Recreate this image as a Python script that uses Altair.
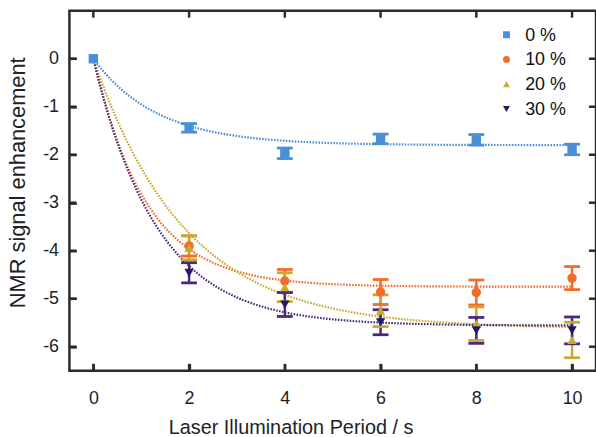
import altair as alt
import pandas as pd

# ---- data ----
times = [0, 2, 4, 6, 8, 10]
series = ["0 %", "10 %", "20 %", "30 %"]
val_0 = [0.0, -1.44, -1.97, -1.67, -1.69, -1.89]
err_0 = [None, 0.09, 0.11, 0.10, 0.11, 0.11]
val_10 = [None, -3.90, -4.63, -4.86, -4.87, -4.57]
err_10 = [None, 0.21, 0.24, 0.26, 0.26, 0.24]
val_20 = [None, -3.94, -4.76, -5.25, -5.52, -5.86]
err_20 = [None, 0.25, 0.30, 0.33, 0.35, 0.37]
val_30 = [None, -4.46, -5.12, -5.49, -5.66, -5.66]
err_30 = [None, 0.21, 0.25, 0.26, 0.27, 0.28]
# fitted model y = A * (1 - exp(-k t))
fit_amp = [-1.80, -4.75, -5.62, -5.56]
fit_rate = [0.75, 0.90, 0.52, 0.75]

x_ticks = [0, 2, 4, 6, 8, 10]
y_ticks = [0, -1, -2, -3, -4, -5, -6]
x_domain = [-0.5, 10.5]
y_domain = [-6.5, 1.0]

line_colors = ["#4A90D6", "#F26B2A", "#C9A928", "#4B2A7B"]
marker_colors = ["#4A90D6", "#F26B2A", "#C9A928", "#1F1A6E"]
shapes = ["square", "circle", "triangle-up", "triangle-down"]

rows = []
for s, vals, errs in zip(series, [val_0, val_10, val_20, val_30],
                         [err_0, err_10, err_20, err_30]):
    for t, v, e in zip(times, vals, errs):
        if v is None:
            continue
        rows.append({"t": t, "v": v, "series": s, "grp": s,
                     "lo": (v - e) if e is not None else None,
                     "hi": (v + e) if e is not None else None})
df = pd.DataFrame(rows)
df_err = df.dropna(subset=["lo"])

W, H = 531, 363
TICK = 7
FONT = "Liberation Sans"
AX = "#2b2b2b"
xs = alt.Scale(domain=x_domain, nice=False, zero=False)
ys = alt.Scale(domain=y_domain, nice=False, zero=False)

common = dict(offset=-TICK, tickSize=TICK, tickWidth=2.5, tickColor=AX, domain=False, grid=False,
              labelFont=FONT, titleFont=FONT, labelColor="#222", titleColor="#222",
              titleFontWeight="normal", labelFontSize=18)
xaxis = alt.Axis(values=x_ticks, orient="bottom", labelPadding=19,
                 title="Laser Illumination Period / s", titlePadding=10, titleFontSize=20,
                 titleX=223, labelExpr="'' + datum.value", **common)
yaxis = alt.Axis(values=y_ticks, orient="left", labelPadding=11,
                 title="NMR signal enhancement", titlePadding=13, titleFontSize=22,
                 titleY=173, labelExpr="'' + datum.value", **common)

stroke_enc = alt.Stroke("grp:N", scale=alt.Scale(domain=series, range=line_colors), legend=None)
color_enc = alt.Color("series:N", scale=alt.Scale(domain=series, range=marker_colors), legend=None)
shape_enc = alt.Shape("series:N", scale=alt.Scale(domain=series, range=shapes), legend=None)

calc = {s: f"{a} * (1 - exp(-{k} * datum.t))" for s, a, k in zip(series, fit_amp, fit_rate)}
curves = alt.Chart(alt.sequence(0, 10.001, 0.05, as_="t")).transform_calculate(
    **calc
).transform_fold(series, as_=["grp", "y"]).mark_line(
    strokeDash=[1.6, 1.4], strokeWidth=2.2
).encode(
    x=alt.X("t:Q", scale=xs, axis=xaxis),
    y=alt.Y("y:Q", scale=ys, axis=yaxis),
    stroke=stroke_enc,
)

bars = alt.Chart(df_err).mark_rule(strokeWidth=2.5).encode(
    x=alt.X("t:Q", scale=xs), y=alt.Y("lo:Q", scale=ys), y2="hi:Q", stroke=stroke_enc
)
cap_lo = alt.Chart(df_err).mark_rule(strokeWidth=2.8, xOffset=-8, x2Offset=8).encode(
    x=alt.X("t:Q", scale=xs), x2="t:Q", y=alt.Y("lo:Q", scale=ys), stroke=stroke_enc
)
cap_hi = alt.Chart(df_err).mark_rule(strokeWidth=2.8, xOffset=-8, x2Offset=8).encode(
    x=alt.X("t:Q", scale=xs), x2="t:Q", y=alt.Y("hi:Q", scale=ys), stroke=stroke_enc
)

points = alt.Chart(df).mark_point(filled=True, size=90, opacity=1).encode(
    x=alt.X("t:Q", scale=xs), y=alt.Y("v:Q", scale=ys), color=color_enc, shape=shape_enc,
)

# inward frame ticks on all four edges, placed on the domain edges through the scales
xt = pd.DataFrame({"t": x_ticks * 2, "edge": [y_domain[1]] * len(x_ticks) + [y_domain[0]] * len(x_ticks),
                   "side": ["top"] * len(x_ticks) + ["bottom"] * len(x_ticks)})
yt = pd.DataFrame({"v": y_ticks * 2, "edge": [x_domain[0]] * len(y_ticks) + [x_domain[1]] * len(y_ticks),
                   "side": ["left"] * len(y_ticks) + ["right"] * len(y_ticks)})
ticks_top = alt.Chart(xt).transform_filter("datum.side == 'top'").mark_tick(
    orient="vertical", size=TICK, thickness=2.5, color=AX, yOffset=TICK / 2, opacity=1
).encode(x=alt.X("t:Q", scale=xs), y=alt.Y("edge:Q", scale=ys))
ticks_bottom = alt.Chart(xt).transform_filter("datum.side == 'bottom'").mark_tick(
    orient="vertical", size=TICK, thickness=2.5, color=AX, yOffset=-TICK / 2, opacity=1
).encode(x=alt.X("t:Q", scale=xs), y=alt.Y("edge:Q", scale=ys))
ticks_left = alt.Chart(yt).transform_filter("datum.side == 'left'").mark_tick(
    orient="horizontal", size=TICK, thickness=2.5, color=AX, xOffset=TICK / 2, opacity=1
).encode(y=alt.Y("v:Q", scale=ys), x=alt.X("edge:Q", scale=xs))
ticks_right = alt.Chart(yt).transform_filter("datum.side == 'right'").mark_tick(
    orient="horizontal", size=TICK, thickness=2.5, color=AX, xOffset=-TICK / 2, opacity=1
).encode(y=alt.Y("v:Q", scale=ys), x=alt.X("edge:Q", scale=xs))

# legend box (top right, inside the frame), rows laid out in data units
LEG_X, LEG_TX, LEG_Y0, LEG_DY = 8.63, 9.02, 0.50, 0.515
leg = alt.Chart(pd.DataFrame({"series": series})).transform_window(
    row="row_number()"
).transform_calculate(
    lx=f"{LEG_X}", tx=f"{LEG_TX}", ly=f"{LEG_Y0} - {LEG_DY} * (datum.row - 1)"
)
leg_sym = leg.mark_point(filled=True, size=49, opacity=1).encode(
    x=alt.X("lx:Q", scale=xs), y=alt.Y("ly:Q", scale=ys), color=color_enc, shape=shape_enc
)
leg_txt = leg.mark_text(align="left", baseline="middle", fontSize=18, font=FONT,
                        color="#111", dy=1).encode(
    x=alt.X("tx:Q", scale=xs), y=alt.Y("ly:Q", scale=ys), text="series:N"
)

chart = alt.layer(curves, bars, cap_lo, cap_hi, points,
                  ticks_top, ticks_bottom, ticks_left, ticks_right,
                  leg_sym, leg_txt).properties(
    width=W, height=H,
    autosize=alt.AutoSizeParams(type="none"),
    padding={"left": 70, "top": 9, "right": 0, "bottom": 65},
    background="white",
).configure_view(
    stroke=AX, strokeWidth=2.5
)

chart.save("out.html", embed_options={"renderer": "svg", "actions": False})
